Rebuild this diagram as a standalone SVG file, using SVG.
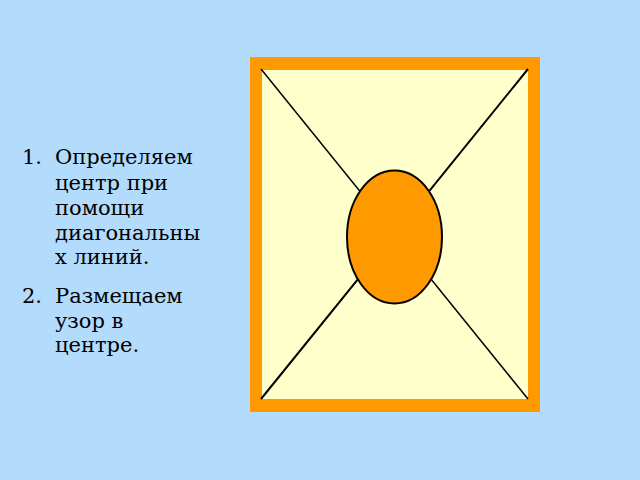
<svg xmlns="http://www.w3.org/2000/svg" width="640" height="480" viewBox="0 0 640 480">
<style>
.t{font-family:"DejaVu Serif",serif;font-size:21px;fill:#000}
.d{stroke:#000;fill:none}
</style>
<rect width="640" height="480" fill="#b3dbfc"/>
<g id="text">
<text class="t" x="22" y="164">1.</text>
<text class="t" x="55" y="164">Определяем</text>
<text class="t" x="55" y="189.5">центр при</text>
<text class="t" x="55" y="214.5">помощи</text>
<text class="t" x="55" y="239.5">диагональны</text>
<text class="t" x="55" y="264">х линий.</text>
<text class="t" x="22" y="303">2.</text>
<text class="t" x="55" y="303">Размещаем</text>
<text class="t" x="55" y="327.5">узор в</text>
<text class="t" x="55" y="352">центре.</text>
</g>
<g id="frame">
<rect x="250" y="57" width="290" height="355" fill="#ff9900"/>
<rect x="262" y="70" width="266" height="329" fill="#ffffcc"/>
</g>
<g id="connectors">
<line class="d" stroke-width="1.5" x1="261" y1="69" x2="528" y2="399"/>
<line class="d" stroke-width="2" x1="528" y1="69" x2="261" y2="399"/>
</g>
<g id="center">
<ellipse cx="394.5" cy="237" rx="47.5" ry="66.5" fill="#ff9900" stroke="#000" stroke-width="2"/>
</g>
</svg>
